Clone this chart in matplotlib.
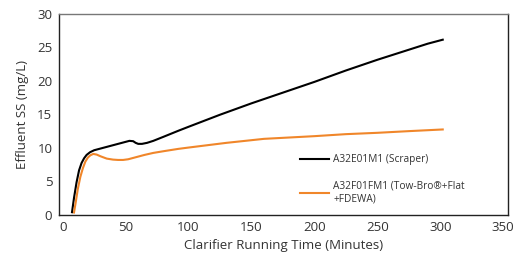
import numpy as np
import matplotlib.pyplot as plt

plt.rcParams['font.family'] = ['Open Sans', 'DejaVu Sans']

# values
t_scraper = [7.4, 9, 11, 13, 15, 17, 19, 21.7, 25, 30, 35, 40, 45, 50, 53, 56, 58, 60, 63, 67, 72, 80,
             91.8, 100, 125, 150, 175, 200, 225, 250, 275, 290, 302]
ss_scraper = [0.35, 2.5, 4.8, 6.6, 7.7, 8.4, 8.9, 9.3, 9.6, 9.85, 10.1, 10.35, 10.6, 10.85, 11.0, 10.95, 10.7,
              10.55, 10.55, 10.7, 11.0, 11.6, 12.5, 13.1, 14.9, 16.6, 18.2, 19.8, 21.5, 23.1, 24.6, 25.5, 26.1]

t_towbro = [9, 10.5, 12, 14, 16, 18, 20, 22, 24.3, 27, 30, 35, 40, 44, 48, 52, 56, 60, 65, 72, 80,
            91.8, 100, 115, 130, 145, 160, 180, 200, 225, 250, 275, 302]
ss_towbro = [0.3, 2.0, 3.8, 5.6, 6.9, 7.9, 8.5, 8.85, 9.05, 8.95, 8.7, 8.35, 8.2, 8.15, 8.15, 8.25, 8.45, 8.65,
             8.9, 9.2, 9.45, 9.8, 10.0, 10.35, 10.7, 11.0, 11.3, 11.5, 11.7, 12.0, 12.2, 12.45, 12.7]

label_scraper = 'A32E01M1 (Scraper)'
label_towbro = 'A32F01FM1 (Tow-Bro®+Flat\n+FDEWA)'

fig = plt.figure(figsize=(5.13, 2.61), dpi=100)
ax = fig.add_axes([0.1156, 0.178, 0.875, 0.770])

ax.plot(t_scraper, ss_scraper, color='black', lw=1.5, label=label_scraper)
ax.plot(t_towbro, ss_towbro, color='#f0862a', lw=1.5, label=label_towbro)

ax.set_xlim(-2.7, 354)
ax.set_ylim(0, 30)
ax.set_xticks(np.arange(0, 351, 50))
ax.set_yticks(np.arange(0, 31, 5))
ax.tick_params(length=0, labelsize=9.5, colors='#333333', pad=5)

for s in ['left', 'bottom', 'right']:
    ax.spines[s].set_color('#222222')
ax.spines['top'].set_color('#777777')
for s in ax.spines.values():
    s.set_linewidth(1.0)

ax.set_xlabel('Clarifier Running Time (Minutes)', fontsize=9.5, color='#333333', labelpad=3)
ax.set_ylabel('Effluent SS (mg/L)', fontsize=9.5, color='#333333', labelpad=6)

leg = ax.legend(loc='upper left', bbox_to_anchor=(0.515, 0.345), frameon=False, fontsize=7.3,
                labelspacing=1.5, handlelength=2.9, handletextpad=0.4)
for txt in leg.get_texts():
    txt.set_color('#333333')

fig.savefig('out.png', dpi=100)
